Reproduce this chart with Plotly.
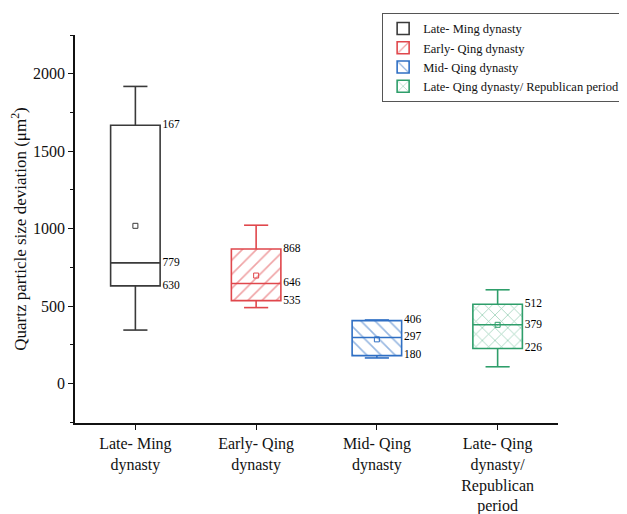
import plotly.graph_objects as go

categories = ["Late- Ming dynasty", "Early- Qing dynasty", "Mid- Qing dynasty",
              "Late- Qing dynasty/ Republican period"]
tick_labels = ["Late- Ming<br>dynasty", "Early- Qing<br>dynasty", "Mid- Qing<br>dynasty",
               "Late- Qing<br>dynasty/<br>Republican<br>period"]
lower_whisker = [345, 490, 165, 108]
q1 = [630, 535, 180, 226]
median = [779, 646, 297, 379]
q3 = [1667, 868, 406, 512]
upper_whisker = [1918, 1022, 410, 605]
mean = [1018, 697, 285, 379]
q3_text = ["167", "868", "406", "512"]
median_text = ["779", "646", "297", "379"]
q1_text = ["630", "535", "180", "226"]

colors = ["#3a3a3a", "#e0474c", "#2f6fc4", "#2e9e6a"]
patterns = ["", "/", "\\", "x"]
pattern_sizes = [10, 10, 10, 9]

box_w = 0.41
cw = 0.1     # half cap width
serif = "Liberation Serif"

fig = go.Figure()
for i, name in enumerate(categories):
    c = colors[i]
    fig.add_trace(go.Bar(
        x=[i], y=[q3[i] - q1[i]], base=[q1[i]], width=box_w, name=name,
        legendgroup=name,
        marker=dict(color="white", line=dict(color=c, width=1.6),
                    pattern=dict(shape=patterns[i], fgcolor=c, bgcolor="white",
                                 size=pattern_sizes[i], solidity=0.16)),
        hoverinfo="skip"))
    hw = box_w / 2
    fig.add_trace(go.Scatter(
        x=[i], y=[mean[i]], mode="markers",
        marker=dict(symbol="square-open", size=5, color=c, line=dict(width=1)),
        legendgroup=name, showlegend=False, hoverinfo="skip"))
    fig.add_trace(go.Scatter(
        x=[i - hw, i + hw], y=[median[i], median[i]], mode="lines",
        line=dict(color=c, width=1.6), legendgroup=name, showlegend=False,
        hoverinfo="skip"))
    fig.add_trace(go.Scatter(
        x=[i, i, None, i, i, None, i - cw, i + cw, None, i - cw, i + cw],
        y=[q3[i], upper_whisker[i], None, q1[i], lower_whisker[i], None,
           upper_whisker[i], upper_whisker[i], None, lower_whisker[i], lower_whisker[i]],
        mode="lines", line=dict(color=c, width=1.6), legendgroup=name,
        showlegend=False, hoverinfo="skip"))
    fig.add_trace(go.Scatter(
        x=[i + hw + 0.02] * 3, y=[q3[i], median[i], q1[i]],
        text=[q3_text[i], median_text[i], q1_text[i]], mode="text",
        textposition="middle right",
        textfont=dict(family=serif, size=11.5, color="#000"),
        showlegend=False, hoverinfo="skip"))

fig.update_layout(
    width=619, height=506,
    margin=dict(l=67, r=69, t=27, b=91, autoexpand=False),
    paper_bgcolor="white", plot_bgcolor="white",
    font=dict(family=serif, size=16, color="#111"),
    barmode="overlay",
    showlegend=True,
    legend=dict(x=1.139, y=1.057, xanchor="right", yanchor="top",
                bgcolor="white", bordercolor="#555", borderwidth=1,
                font=dict(family=serif, size=12.5, color="#111"),
                tracegroupgap=0, itemwidth=30),
    xaxis=dict(range=[-0.5, 3.5], tickvals=[0, 1, 2, 3], ticktext=tick_labels,
               showgrid=False, zeroline=False, showline=True, linecolor="#111",
               linewidth=1.5, ticks="outside", ticklen=5, tickcolor="#111",
               tickfont=dict(family=serif, size=16)),
    yaxis=dict(range=[-255, 2250], tickvals=[0, 500, 1000, 1500, 2000],
               showgrid=False, zeroline=False, showline=True, linecolor="#111",
               linewidth=1.5, ticks="outside", ticklen=5, tickcolor="#111",
               minor=dict(tickvals=[-250, 250, 750, 1250, 1750, 2250], ticks="outside",
                          ticklen=3, tickcolor="#111"),
               tickfont=dict(family=serif, size=16),
               title=dict(text="Quartz particle size deviation (μm<sup>2</sup>)",
                          font=dict(family=serif, size=17), standoff=6)),
)

fig.write_html("out.html")
